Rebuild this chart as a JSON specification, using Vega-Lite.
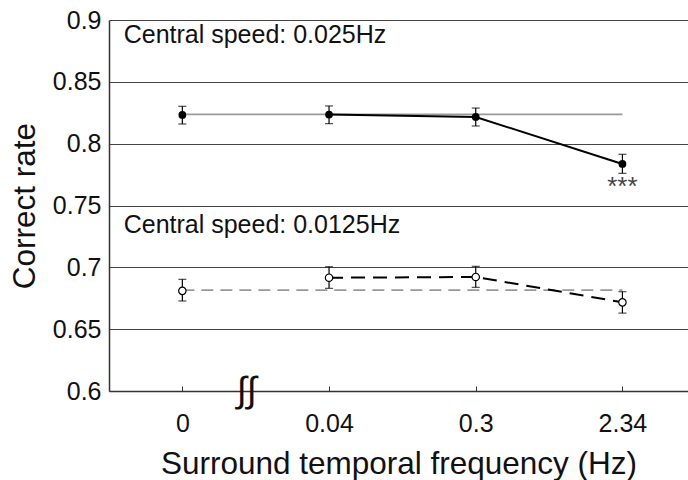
{
  "$schema": "https://vega.github.io/schema/vega-lite/v6.json",
  "width": 579,
  "height": 371,
  "autosize": "none",
  "padding": {"left": 109, "top": 20, "right": 0, "bottom": 89},
  "background": "white",
  "config": {
    "view": {"stroke": null},
    "font": "Liberation Sans",
    "axis": {"labelFont": "Liberation Sans", "titleFont": "Liberation Sans", "labelColor": "#111", "titleColor": "#111", "titleFontWeight": "normal"}
  },
  "datasets": {
    "pts": [
      {"series": "fast", "x": 0, "freq": "0", "mean": 0.8232, "lo": 0.8159, "hi": 0.8302},
      {"series": "fast", "x": 1, "freq": "0.04", "mean": 0.8235, "lo": 0.8162, "hi": 0.8305},
      {"series": "fast", "x": 2, "freq": "0.3", "mean": 0.8216, "lo": 0.8143, "hi": 0.8288},
      {"series": "fast", "x": 3, "freq": "2.34", "mean": 0.7836, "lo": 0.7760, "hi": 0.7914},
      {"series": "slow", "x": 0, "freq": "0", "mean": 0.6810, "lo": 0.6728, "hi": 0.6903},
      {"series": "slow", "x": 1, "freq": "0.04", "mean": 0.6916, "lo": 0.6830, "hi": 0.7005},
      {"series": "slow", "x": 2, "freq": "0.3", "mean": 0.6922, "lo": 0.6838, "hi": 0.7008},
      {"series": "slow", "x": 3, "freq": "2.34", "mean": 0.6717, "lo": 0.6630, "hi": 0.6803}
    ],
    "refs": [
      {"series": "fast", "x": 0, "v": 0.8237},
      {"series": "fast", "x": 3, "v": 0.8237},
      {"series": "slow", "x": 0, "v": 0.6816},
      {"series": "slow", "x": 3, "v": 0.6816}
    ],
    "notes": [
      {"x": -0.4, "y": 0.8812, "text": "Central speed: 0.025Hz"},
      {"x": -0.4, "y": 0.7278, "text": "Central speed: 0.0125Hz"}
    ]
  },
  "layer": [
    {
      "data": {"name": "refs"},
      "transform": [{"filter": "datum.series == 'fast'"}],
      "mark": {"type": "line", "color": "#999999", "strokeWidth": 1.6},
      "encoding": {
        "x": {
          "field": "x", "type": "quantitative",
          "scale": {"domain": [-0.5, 3.447], "nice": false, "zero": false},
          "axis": {
            "values": [0, 1, 2, 3],
            "labelExpr": "['0','0.04','0.3','2.34'][datum.value]",
            "grid": false,
            "domainColor": "#333", "domainWidth": 1.5,
            "tickColor": "#333", "tickSize": -5, "tickWidth": 1,
            "labelFontSize": 25, "labelPadding": 25,
            "title": "Surround temporal frequency (Hz)",
            "titleFontSize": 31.5, "titlePadding": 12
          }
        },
        "y": {
          "field": "v", "type": "quantitative",
          "title": "Correct rate",
          "scale": {"domain": [0.6, 0.9], "nice": false, "zero": false},
          "axis": {
            "values": [0.6, 0.65, 0.7, 0.75, 0.8, 0.85, 0.9],
            "format": "~g",
            "grid": true, "gridColor": "#444", "gridWidth": 1.2,
            "ticks": false,
            "domainColor": "#333", "domainWidth": 1.5,
            "labelFontSize": 25, "labelPadding": 8,
            "titleFontSize": 31.5, "titlePadding": 11
          }
        }
      }
    },
    {
      "data": {"name": "refs"},
      "transform": [{"filter": "datum.series == 'slow'"}],
      "mark": {"type": "line", "color": "#999999", "strokeWidth": 1.6, "strokeDash": [12, 7]},
      "encoding": {
        "x": {"field": "x", "type": "quantitative"},
        "y": {"field": "v", "type": "quantitative", "title": "Correct rate"}
      }
    },
    {
      "data": {"name": "pts"},
      "transform": [{"filter": "datum.series == 'fast' && datum.x >= 1"}],
      "mark": {"type": "line", "color": "black", "strokeWidth": 2},
      "encoding": {
        "x": {"field": "x", "type": "quantitative"},
        "y": {"field": "mean", "type": "quantitative", "title": "Correct rate"}
      }
    },
    {
      "data": {"name": "pts"},
      "transform": [{"filter": "datum.series == 'slow' && datum.x >= 1"}],
      "mark": {"type": "line", "color": "black", "strokeWidth": 2, "strokeDash": [14, 8]},
      "encoding": {
        "x": {"field": "x", "type": "quantitative"},
        "y": {"field": "mean", "type": "quantitative", "title": "Correct rate"}
      }
    },
    {
      "data": {"name": "pts"},
      "mark": {"type": "errorbar", "ticks": {"size": 8, "color": "black", "thickness": 1.2}, "rule": {"color": "black", "strokeWidth": 1.2}},
      "encoding": {
        "x": {"field": "x", "type": "quantitative"},
        "y": {"field": "lo", "type": "quantitative", "title": "Correct rate"},
        "y2": {"field": "hi"}
      }
    },
    {
      "data": {"name": "pts"},
      "transform": [{"filter": "datum.series == 'fast'"}],
      "mark": {"type": "point", "filled": true, "color": "black", "size": 60, "opacity": 1},
      "encoding": {
        "x": {"field": "x", "type": "quantitative"},
        "y": {"field": "mean", "type": "quantitative", "title": "Correct rate"}
      }
    },
    {
      "data": {"name": "pts"},
      "transform": [{"filter": "datum.series == 'slow'"}],
      "mark": {"type": "point", "filled": false, "fill": "white", "fillOpacity": 1, "stroke": "black", "strokeWidth": 1.2, "size": 55, "opacity": 1},
      "encoding": {
        "x": {"field": "x", "type": "quantitative"},
        "y": {"field": "mean", "type": "quantitative", "title": "Correct rate"}
      }
    },
    {
      "data": {"name": "notes"},
      "mark": {"type": "text", "align": "left", "baseline": "alphabetic", "fontSize": 25, "color": "#111"},
      "encoding": {
        "x": {"field": "x", "type": "quantitative"},
        "y": {"field": "y", "type": "quantitative", "title": "Correct rate"},
        "text": {"field": "text"}
      }
    },
    {
      "data": {"values": [{"x": 3, "y": 0.7583, "text": "***"}]},
      "mark": {"type": "text", "align": "center", "baseline": "alphabetic", "fontSize": 26, "color": "#444"},
      "encoding": {
        "x": {"field": "x", "type": "quantitative"},
        "y": {"field": "y", "type": "quantitative", "title": "Correct rate"},
        "text": {"field": "text"}
      }
    },
    {
      "data": {"values": [{"x": 0.44, "y": 0.6, "text": "∫∫"}]},
      "mark": {"type": "text", "align": "center", "baseline": "middle", "fontSize": 36, "color": "#111"},
      "encoding": {
        "x": {"field": "x", "type": "quantitative"},
        "y": {"field": "y", "type": "quantitative", "title": "Correct rate"},
        "text": {"field": "text"}
      }
    }
  ]
}
